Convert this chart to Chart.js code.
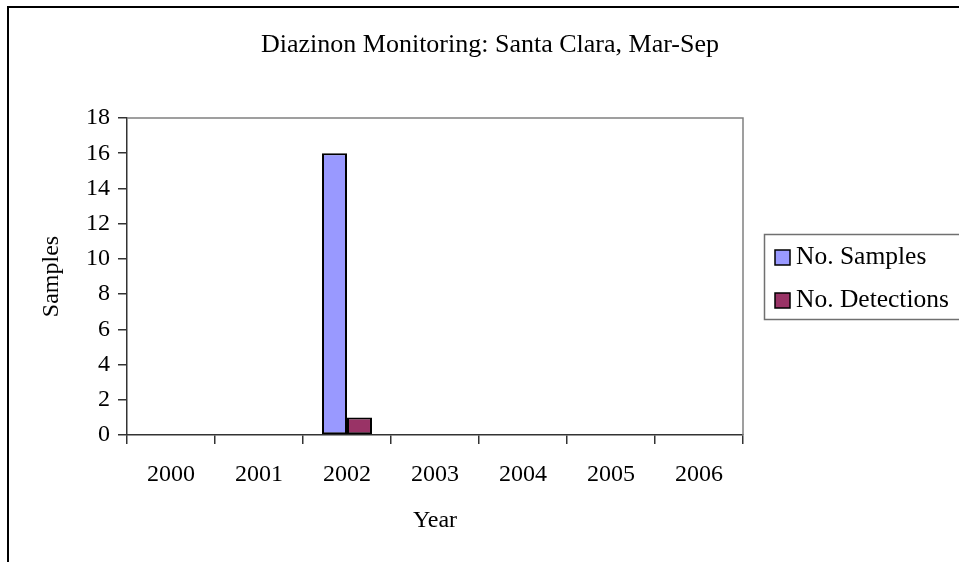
<!DOCTYPE html>
<html>
<head>
<meta charset="utf-8">
<script src="https://cdn.jsdelivr.net/npm/chart.js@4/dist/chart.umd.min.js"></script>
<style>
  html, body { margin: 0; padding: 0; background: #fff; }
  #wrap { width: 959px; height: 562px; }
</style>
</head>
<body>
<div id="wrap"><canvas id="c" width="959" height="562"></canvas></div>
<script>
const titleText = "Diazinon Monitoring: Santa Clara, Mar-Sep";
const years = ["2000", "2001", "2002", "2003", "2004", "2005", "2006"];
const samples = [0, 0, 16, 0, 0, 0, 0];
const detections = [0, 0, 1, 0, 0, 0, 0];
const seriesNames = ["No. Samples", "No. Detections"];
const seriesColors = ["#9999FF", "#993366"];
const yTitle = "Samples";
const xTitle = "Year";

const FONT = "'Liberation Serif', 'Times New Roman', serif";
Chart.defaults.font.family = FONT;
Chart.defaults.color = "#000";

const framePlugin = {
  id: "frame",
  afterDraw(chart) {
    const ctx = chart.ctx;
    const a = chart.chartArea;
    ctx.save();
    // plot frame top & right (gray)
    ctx.strokeStyle = "#808080";
    ctx.lineWidth = 1.5;
    ctx.beginPath();
    ctx.moveTo(a.left, a.top);
    ctx.lineTo(a.right, a.top);
    ctx.lineTo(a.right, a.bottom);
    ctx.stroke();
    // outer chart border
    ctx.strokeStyle = "#000";
    ctx.lineWidth = 2;
    ctx.strokeRect(8, 7, 1200, 1200);
    // title
    ctx.fillStyle = "#000";
    ctx.font = "26px " + FONT;
    ctx.textAlign = "center";
    ctx.textBaseline = "middle";
    ctx.fillText(titleText, 490, 45);
    // legend box
    const lx = 764.5, ly = 234.5;
    ctx.strokeStyle = "#707070";
    ctx.lineWidth = 1.5;
    ctx.strokeRect(lx, ly, 400, 85);
    ctx.font = "25.5px " + FONT;
    ctx.textAlign = "left";
    chart.data.datasets.forEach((ds, i) => {
      const cy = 257 + i * 43;
      ctx.fillStyle = ds.backgroundColor;
      ctx.fillRect(775, cy - 7, 15, 15);
      ctx.strokeStyle = "#000";
      ctx.lineWidth = 1.5;
      ctx.strokeRect(775, cy - 7, 15, 15);
      ctx.fillStyle = "#000";
      ctx.fillText(ds.label, 796, cy);
    });
    ctx.restore();
  }
};

new Chart(document.getElementById("c"), {
  type: "bar",
  data: {
    labels: years,
    datasets: [
      { label: seriesNames[0], data: samples, backgroundColor: seriesColors[0], borderColor: "#000", borderWidth: 2, borderSkipped: false },
      { label: seriesNames[1], data: detections, backgroundColor: seriesColors[1], borderColor: "#000", borderWidth: 2, borderSkipped: false }
    ]
  },
  options: {
    responsive: false,
    animation: false,
    events: [],
    datasets: { bar: { categoryPercentage: 0.568, barPercentage: 1.0 } },
    layout: { padding: { top: 118, right: 216, left: 0, bottom: 0 } },
    plugins: {
      legend: { display: false },
      title: { display: false },
      tooltip: { enabled: false }
    },
    scales: {
      x: {
        grid: { display: true, drawOnChartArea: false, offset: true, tickLength: 9, color: "#333", lineWidth: 1.5 },
        border: { display: true, color: "#333", width: 1.5 },
        ticks: { font: { size: 24 }, color: "#000", padding: 16, maxRotation: 0, autoSkip: false },
        title: { display: true, text: xTitle, font: { size: 24 }, color: "#000", padding: { top: 0, bottom: 26.6 } },
        afterFit(scale) { scale.height = 127; }
      },
      y: {
        min: 0, max: 18,
        grid: { display: true, drawOnChartArea: false, tickLength: 9, color: "#333", lineWidth: 1.5 },
        border: { display: true, color: "#333", width: 1.5 },
        ticks: { stepSize: 2, font: { size: 24 }, color: "#000", padding: 8, autoSkip: false },
        title: { display: true, text: yTitle, font: { size: 24 }, color: "#000", padding: { top: 37.6, bottom: 0 } },
        afterFit(scale) { scale.width = 127; }
      }
    }
  },
  plugins: [framePlugin]
});
</script>
</body>
</html>
